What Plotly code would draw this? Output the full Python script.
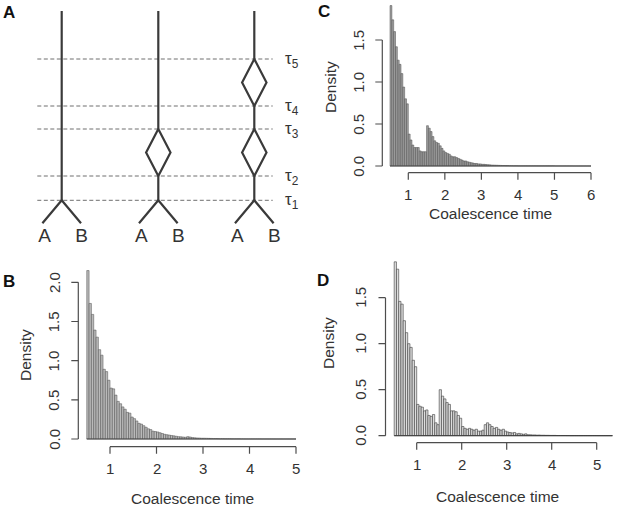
import plotly.graph_objects as go

# ---------------- data ----------------
BIN_START = 0.5
BIN_WIDTH = 0.05

density_b = [
    2.15, 1.73, 1.59, 1.39, 1.30, 1.14, 1.07, 0.89, 0.86, 0.75,
    0.65, 0.64, 0.56, 0.48, 0.45, 0.41, 0.38, 0.34, 0.33, 0.28,
    0.26, 0.23, 0.20, 0.19, 0.17, 0.15, 0.13, 0.12, 0.10, 0.095,
    0.09, 0.08, 0.07, 0.06, 0.055, 0.05, 0.045, 0.04, 0.035, 0.03,
    0.028, 0.025, 0.022, 0.03, 0.025, 0.018, 0.015, 0.013, 0.012, 0.01,
    0.01, 0.009, 0.008, 0.007, 0.006, 0.006, 0.005, 0.004, 0.004, 0.003,
    0.003, 0.003, 0.002, 0.002, 0.002, 0.002, 0.0015, 0.0015, 0.001, 0.001,
    0.001, 0.001, 0.001, 0.001, 0.001, 0.0008, 0.0008, 0.0008, 0.0008, 0.0008,
    0.0005, 0.0005, 0.0005, 0.0005, 0.0005, 0.0005, 0.0005, 0.0005, 0.0005, 0.0005,
]

density_c = [
    1.91, 1.74, 1.60, 1.42, 1.26, 1.21, 1.10, 0.94, 0.80, 0.74,
    0.38, 0.31, 0.25, 0.22, 0.22, 0.22, 0.18, 0.17, 0.17, 0.17,
    0.48, 0.45, 0.41, 0.35, 0.30, 0.28, 0.27, 0.24, 0.21, 0.18,
    0.16, 0.15, 0.14, 0.12, 0.11, 0.11, 0.10, 0.09, 0.08, 0.07,
    0.06, 0.06, 0.05, 0.045, 0.04, 0.035, 0.03, 0.03, 0.025, 0.025,
    0.02, 0.02, 0.018, 0.016, 0.014, 0.012, 0.011, 0.01, 0.009, 0.008,
    0.007, 0.006, 0.006, 0.005, 0.005, 0.004, 0.004, 0.003, 0.003, 0.003,
    0.002, 0.002, 0.002, 0.002, 0.002, 0.002, 0.002, 0.002, 0.002, 0.002,
    0.0015, 0.0015, 0.0015, 0.0015, 0.0015, 0.0015, 0.0015, 0.0015, 0.0015, 0.0015,
    0.001, 0.001, 0.001, 0.001, 0.001, 0.001, 0.001, 0.001, 0.001, 0.001,
    0.0005, 0.0005, 0.0005, 0.0005, 0.0005, 0.0005, 0.0005, 0.0005, 0.0005, 0.0005,
]

density_d = [
    1.89, 1.81, 1.46, 1.43, 1.25, 1.12, 1.00, 0.96, 0.82, 0.75,
    0.34, 0.32, 0.31, 0.27, 0.28, 0.22, 0.21, 0.23, 0.14, 0.12,
    0.50, 0.43, 0.40, 0.36, 0.34, 0.27, 0.27, 0.26, 0.22, 0.19,
    0.10, 0.08, 0.07, 0.08, 0.07, 0.06, 0.07, 0.05, 0.05, 0.06,
    0.12, 0.14, 0.12, 0.10, 0.08, 0.09, 0.07, 0.06, 0.07, 0.05,
    0.04, 0.035, 0.03, 0.035, 0.02, 0.025, 0.02, 0.015, 0.02, 0.01,
    0.01, 0.008, 0.008, 0.006, 0.007, 0.005, 0.005, 0.004, 0.004, 0.003,
    0.003, 0.003, 0.002, 0.002, 0.002, 0.002, 0.0015, 0.0015, 0.001, 0.001,
    0.001, 0.001, 0.001, 0.001, 0.001, 0.001, 0.001, 0.001, 0.001, 0.001,
    0.0005, 0.0005, 0.0005, 0.0005, 0.0005, 0.0005, 0.0005,
]

xticks_b = [1, 2, 3, 4, 5]
yticks_b = [0.0, 0.5, 1.0, 1.5, 2.0]
xticks_c = [1, 2, 3, 4, 5, 6]
yticks_c = [0.0, 0.5, 1.0, 1.5]
xticks_d = [1, 2, 3, 4, 5]
yticks_d = [0.0, 0.5, 1.0, 1.5]

x_title = "Coalescence time"
y_title = "Density"

# panel A schematic (diagram units, y grows downward)
tau_labels = ["τ<sub>1</sub>", "τ<sub>2</sub>", "τ<sub>3</sub>", "τ<sub>4</sub>", "τ<sub>5</sub>"]
tau_levels = [200.3, 176, 129, 106, 59]
tree_x = [61.7, 158.3, 254.3]
tree_diamonds = [[], [(1, 2)], [(1, 2), (3, 4)]]  # (lower tau idx, upper tau idx)
leaf_names = ["A", "B"]

# ---------------- style / geometry ----------------
W, H = 617, 508
FONT = "Liberation Sans, Arial, Helvetica, sans-serif"
TXT = "#333333"
AXC = "#4d4d4d"
TICKLEN = 7
XLAB_GAP = 21.3   # px from x-axis line to tick-label centre
YLAB_GAP = 24.5   # px from y-axis line to tick-label centre


def px_x(p):
    return p / W


def px_y(p):
    return 1 - p / H


def lin(p, p1, v1, p2, v2):
    return v1 + (p - p1) * (v2 - v1) / (p2 - p1)


panels = [
    dict(name="B", dens=density_b, xt=xticks_b, yt=yticks_b,
         xline_y=446.7, yline_x=78.3, xt_px=(110, 296), yt_px=(439, 282.3),
         right=305, top=258,
         fill="#bababa", edge="#4a4a4a", ew=0.5,
         label=(8.5, 281.5), ytitle=(25, 355), xtitle=(192, 498)),
    dict(name="C", dens=density_c, xt=xticks_c, yt=yticks_c,
         xline_y=172.7, yline_x=382.3, xt_px=(408.3, 591), yt_px=(166, 40),
         right=605, top=0,
         fill="#a2a2a2", edge="#4a4a4a", ew=0.5,
         label=(323.5, 11.5), ytitle=(330, 87), xtitle=(490.5, 214)),
    dict(name="D", dens=density_d, xt=xticks_d, yt=yticks_d,
         xline_y=442.7, yline_x=385.5, xt_px=(416.7, 596.7), yt_px=(435.7, 297.7),
         right=617, top=250,
         fill="#dedede", edge="#3a3a3a", ew=0.6,
         label=(322.5, 280), ytitle=(328, 343), xtitle=(497, 496)),
]

fig = go.Figure()
layout = dict(
    template="none",
    width=W, height=H, margin=dict(l=0, r=0, t=0, b=0, pad=0, autoexpand=False),
    paper_bgcolor="white", plot_bgcolor="rgba(0,0,0,0)",
    showlegend=False, bargap=0,
    font=dict(family=FONT, color=TXT),
)
annotations = []


def aname(kind, k):
    return kind if k == 1 else f"{kind}{k}"


for i, p in enumerate(panels):
    k = i + 1
    xn, yn = aname("x", k), aname("y", k)

    (x1p, x2p) = p["xt_px"]
    (y1p, y2p) = p["yt_px"]
    xv1, xv2 = p["xt"][0], p["xt"][-1]
    yv1, yv2 = p["yt"][0], p["yt"][-1]

    def fx(px, x1p=x1p, x2p=x2p, xv1=xv1, xv2=xv2):
        return lin(px, x1p, xv1, x2p, xv2)

    def fy(px, y1p=y1p, y2p=y2p, yv1=yv1, yv2=yv2):
        return lin(px, y1p, yv1, y2p, yv2)

    # plot region includes the detached R-style axes
    d0, d1 = p["yline_x"] - TICKLEN - 3, p["right"]
    e0, e1 = p["top"], p["xline_y"] + TICKLEN + 3
    layout[aname("xaxis", k)] = dict(domain=[px_x(d0), px_x(d1)], range=[fx(d0), fx(d1)],
                                     visible=False, anchor=yn, fixedrange=True)
    layout[aname("yaxis", k)] = dict(domain=[px_y(e1), px_y(e0)], range=[fy(e1), fy(e0)],
                                     visible=False, anchor=xn, fixedrange=True)

    n = len(p["dens"])
    centers = [BIN_START + BIN_WIDTH * (j + 0.5) for j in range(n)]
    fig.add_trace(go.Bar(
        x=centers, y=p["dens"], width=BIN_WIDTH,
        marker=dict(color=p["fill"], line=dict(color=p["edge"], width=p["ew"])),
        xaxis=xn, yaxis=yn, hoverinfo="skip"))
    fig.add_trace(go.Scatter(
        x=[BIN_START, BIN_START + BIN_WIDTH * n], y=[0, 0], mode="lines",
        line=dict(color=p["edge"], width=1), xaxis=xn, yaxis=yn, hoverinfo="skip"))

    # x axis (first..last tick) with outward ticks
    yl = fy(p["xline_y"])
    yt_end = fy(p["xline_y"] + TICKLEN)
    xs, ys = [xv1, xv2, None], [yl, yl, None]
    for t in p["xt"]:
        xs += [t, t, None]
        ys += [yl, yt_end, None]
    # y axis
    xl = fx(p["yline_x"])
    xt_end = fx(p["yline_x"] - TICKLEN)
    xs += [xl, xl, None]
    ys += [yv1, yv2, None]
    for t in p["yt"]:
        xs += [xl, xt_end, None]
        ys += [t, t, None]
    fig.add_trace(go.Scatter(x=xs, y=ys, mode="lines", line=dict(color=AXC, width=1.2),
                             xaxis=xn, yaxis=yn, hoverinfo="skip"))

    # tick labels (positioned through the panel's axes)
    for t in p["xt"]:
        annotations.append(dict(text=str(t), x=t, xref=xn,
                                y=px_y(p["xline_y"] + XLAB_GAP), yref="paper",
                                showarrow=False, xanchor="center", yanchor="middle",
                                font=dict(size=15, color=TXT)))
    for t in p["yt"]:
        annotations.append(dict(text=f"{t:.1f}", x=px_x(p["yline_x"] - YLAB_GAP), xref="paper",
                                y=t, yref=yn, showarrow=False, textangle=-90,
                                xanchor="center", yanchor="middle",
                                font=dict(size=15, color=TXT)))

    lx, ly = p["label"]
    annotations.append(dict(text=f"<b>{p['name']}</b>", x=px_x(lx), y=px_y(ly),
                            xref="paper", yref="paper", showarrow=False,
                            font=dict(size=17, color="#111"), xanchor="center", yanchor="middle"))
    ax_, ay_ = p["ytitle"]
    annotations.append(dict(text=y_title, x=px_x(ax_), y=px_y(ay_), xref="paper", yref="paper",
                            showarrow=False, textangle=-90, font=dict(size=15.5, color=TXT),
                            xanchor="center", yanchor="middle"))
    ax_, ay_ = p["xtitle"]
    annotations.append(dict(text=x_title, x=px_x(ax_), y=px_y(ay_), xref="paper", yref="paper",
                            showarrow=False, font=dict(size=15.5, color=TXT),
                            xanchor="center", yanchor="middle"))

# ---------------- panel A ----------------
root_y = 11
leaf_y = 223.3
leaf_dx = 19.3
dia_dx = 12.2
dash_x = (37.3, 272.7)

for lvl in tau_levels:
    fig.add_trace(go.Scatter(x=list(dash_x), y=[lvl, lvl], mode="lines",
                             line=dict(color="#6e6e6e", width=1, dash="4px,2.5px"),
                             xaxis="x4", yaxis="y4", hoverinfo="skip"))

for tx_, dias in zip(tree_x, tree_diamonds):
    xs, ys = [], []
    xs += [tx_ - leaf_dx, tx_, tx_ + leaf_dx, None]
    ys += [leaf_y, tau_levels[0], leaf_y, None]
    cur = tau_levels[0]
    for lo, hi in dias:
        xs += [tx_, tx_, None]
        ys += [cur, tau_levels[lo], None]
        mid = (tau_levels[lo] + tau_levels[hi]) / 2
        xs += [tx_, tx_ - dia_dx, tx_, tx_ + dia_dx, tx_, None]
        ys += [tau_levels[lo], mid, tau_levels[hi], mid, tau_levels[lo], None]
        cur = tau_levels[hi]
    xs += [tx_, tx_]
    ys += [cur, root_y]
    fig.add_trace(go.Scatter(x=xs, y=ys, mode="lines",
                             line=dict(color="#3a3a3a", width=2.2),
                             xaxis="x4", yaxis="y4", hoverinfo="skip"))
    fig.add_trace(go.Scatter(x=[tx_ - 17, tx_ + 20], y=[237.3, 237.3], mode="text",
                             text=leaf_names, textposition="middle center",
                             textfont=dict(size=19, color=TXT, family=FONT),
                             xaxis="x4", yaxis="y4", hoverinfo="skip"))

for lab, lvl in zip(tau_labels, tau_levels):
    annotations.append(dict(text=lab, x=283, y=lvl + 1, xref="x4", yref="y4", showarrow=False,
                            xanchor="left", yanchor="middle",
                            font=dict(size=17, color=TXT, family=FONT)))

annotations.append(dict(text="<b>A</b>", x=px_x(9), y=px_y(12.5), xref="paper", yref="paper",
                        showarrow=False, font=dict(size=17, color="#111"),
                        xanchor="center", yanchor="middle"))

layout["xaxis4"] = dict(domain=[0, px_x(310)], range=[0, 310], visible=False, anchor="y4")
layout["yaxis4"] = dict(domain=[px_y(250), 1], range=[250, 0], visible=False, anchor="x4")
layout["annotations"] = annotations

fig.update_layout(**layout)
fig.write_html("out.html", config={"displayModeBar": False, "staticPlot": True},
               post_script="document.body.style.margin='0';document.body.style.padding='0';")
